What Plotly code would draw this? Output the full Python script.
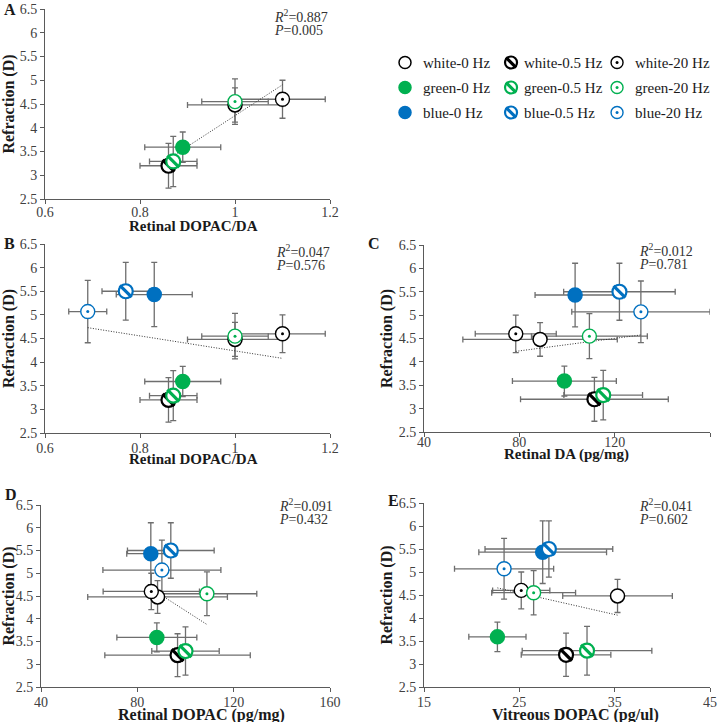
import numpy as np
import plotly.graph_objects as go

# ---------------- data ----------------
groups = ["white-0 Hz", "white-0.5 Hz", "white-20 Hz",
          "green-0 Hz", "green-0.5 Hz", "green-20 Hz",
          "blue-0 Hz", "blue-0.5 Hz", "blue-20 Hz"]
light = ["white", "white", "white", "green", "green", "green", "blue", "blue", "blue"]
flicker = ["0", "0.5", "20", "0", "0.5", "20", "0", "0.5", "20"]

refraction    = [4.48, 3.20, 4.60, 3.59, 3.29, 4.55, 5.43, 5.50, 5.07]
refraction_sd = [0.36, 0.47, 0.40, 0.32, 0.53, 0.48, 0.68, 0.61, 0.66]

dopac_da      = [1.00, 0.86, 1.10, 0.89, 0.87, 1.00, 0.83, 0.77, 0.69]
dopac_da_sd   = [0.10, 0.06, 0.09, 0.08, 0.05, 0.07, 0.08, 0.05, 0.04]

retinal_da    = [88.7, 111.5, 78.5, 98.9, 115.2, 109.4, 103.4, 122.0, 131.0]
retinal_da_sd = [32.4, 31.0, 17.0, 21.8, 16.5, 24.3, 16.8, 23.4, 29.0]

retinal_dopac    = [88.4, 96.7, 85.8, 88.1, 100.0, 108.9, 85.6, 93.9, 90.2]
retinal_dopac_sd = [29.0, 30.2, 20.0, 16.6, 14.0, 20.7, 10.0, 18.0, 24.5]

vitreous_dopac    = [35.3, 29.9, 25.2, 22.7, 32.1, 26.5, 27.45, 28.1, 23.4]
vitreous_dopac_sd = [5.75, 4.7, 3.0, 3.0, 6.8, 4.4, 6.7, 6.7, 5.2]

r2_values = ["0.887", "0.047", "0.012", "0.091", "0.041"]
p_values  = ["0.005", "0.576", "0.781", "0.432", "0.602"]
panel_letters = ["A", "B", "C", "D", "E"]
x_titles = ["Retinal DOPAC/DA", "Retinal DOPAC/DA", "Retinal DA (pg/mg)",
            "Retinal DOPAC (pg/mg)", "Vitreous DOPAC (pg/ul)"]

y_ticks = [2.5, 3, 3.5, 4, 4.5, 5, 5.5, 6, 6.5]
y_tick_labels = ["2.5", "3", "3.5", "4", "4.5", "5", "5.5", "6", "6.5"]
x_ticks_ratio = [0.6, 0.8, 1.0, 1.2]
x_tick_labels_ratio = ["0.6", "0.8", "1", "1.2"]
x_ticks_pg = [40, 80, 120, 160]
x_tick_labels_pg = ["40", "80", "120", "160"]
x_ticks_vit = [15, 25, 35, 45]
x_tick_labels_vit = ["15", "25", "35", "45"]

# ---------------- style ----------------
FONT = "Liberation Serif"
COLORS = {"white": "#000000", "green": "#00b050", "blue": "#0070c0"}
ERR_COLOR = "#6e6e6e"
AX_COLOR = "#5a5a5a"
W, H = 720, 722
MS = 14

def px_x(p):
    return p / W

def px_y(p):
    return 1 - p / H

# panel rects in pixels: left, right, top, bottom
panels = [
    (45, 330, 9, 199),
    (45, 330, 244, 433),
    (424, 710, 245, 432),
    (41, 330, 505, 687),
    (424, 710, 503, 687),
]
panel_x = [dopac_da, dopac_da, retinal_da, retinal_dopac, vitreous_dopac]
panel_xsd = [dopac_da_sd, dopac_da_sd, retinal_da_sd, retinal_dopac_sd, vitreous_dopac_sd]
panel_groups = [list(range(6)), list(range(9)), list(range(9)), list(range(9)), list(range(9))]
panel_xticks = [(x_ticks_ratio, x_tick_labels_ratio), (x_ticks_ratio, x_tick_labels_ratio),
                (x_ticks_pg, x_tick_labels_pg), (x_ticks_pg, x_tick_labels_pg),
                (x_ticks_vit, x_tick_labels_vit)]
xtick_standoff = [-4, -2, -7, -2, -2]
letter_pos = [(2, -1), (2, 233), (366, 233), (3, 484), (386, 490)]
stat_pos = [(272, 5), (274, 240), (637, 239), (277, 494), (637, 494)]
xtitle_pos = [(193, 226), (193, 459), (566, 454), (201, 715), (575, 715)]
xtitle_size = [15, 15, 15, 16, 16]

fig = go.Figure()

def marker_traces(xs, ys, idxs, xref, yref, size=MS):
    for i in idxs:
        col = COLORS[light[i]]
        f = flicker[i]
        if f == "0":
            fill = "#ffffff" if light[i] == "white" else col
            fig.add_trace(go.Scatter(x=[xs[i]], y=[ys[i]], mode="markers", xaxis=xref, yaxis=yref,
                                     marker=dict(symbol="circle", size=size, color=fill,
                                                 line=dict(color=col, width=1.5)),
                                     showlegend=False, hoverinfo="skip"))
        elif f == "0.5":
            fig.add_trace(go.Scatter(x=[xs[i]], y=[ys[i]], mode="markers", xaxis=xref, yaxis=yref,
                                     marker=dict(symbol="circle", size=size, color="#ffffff",
                                                 line=dict(color=col, width=2.2)),
                                     showlegend=False, hoverinfo="skip"))
            fig.add_trace(go.Scatter(x=[xs[i]], y=[ys[i]], mode="markers", xaxis=xref, yaxis=yref,
                                     marker=dict(symbol="line-nw", size=size * 0.85, color=col,
                                                 line=dict(color=col, width=3.2)),
                                     showlegend=False, hoverinfo="skip"))
        else:
            fig.add_trace(go.Scatter(x=[xs[i]], y=[ys[i]], mode="markers", xaxis=xref, yaxis=yref,
                                     marker=dict(symbol="circle", size=size, color="#ffffff",
                                                 line=dict(color=col, width=1.4)),
                                     showlegend=False, hoverinfo="skip"))
            fig.add_trace(go.Scatter(x=[xs[i]], y=[ys[i]], mode="markers", xaxis=xref, yaxis=yref,
                                     marker=dict(symbol="circle", size=3, color=col,
                                                 line=dict(width=0)),
                                     showlegend=False, hoverinfo="skip"))

layout_axes = {}
annotations = []
for k in range(5):
    n = k + 1
    xref = "x" if n == 1 else f"x{n}"
    yref = "y" if n == 1 else f"y{n}"
    xs = panel_x[k]
    xsd = panel_xsd[k]
    idxs = panel_groups[k]
    sel_x = [xs[i] for i in idxs]
    sel_y = [refraction[i] for i in idxs]
    # error bars
    fig.add_trace(go.Scatter(
        x=sel_x, y=sel_y, mode="markers", xaxis=xref, yaxis=yref,
        marker=dict(size=MS, opacity=0),
        error_x=dict(type="data", array=[xsd[i] for i in idxs], color=ERR_COLOR, thickness=1.3, width=3),
        error_y=dict(type="data", array=[refraction_sd[i] for i in idxs], color=ERR_COLOR, thickness=1.3, width=3),
        showlegend=False, hoverinfo="skip"))
    # linear trendline
    slope, icpt = np.polyfit(sel_x, sel_y, 1)
    tx = np.array([min(sel_x), max(sel_x)])
    fig.add_trace(go.Scatter(x=tx, y=slope * tx + icpt, mode="lines", xaxis=xref, yaxis=yref,
                             line=dict(color="#333333", width=1, dash="1px,1.6px"),
                             showlegend=False, hoverinfo="skip"))
    marker_traces(xs, refraction, idxs, xref, yref)

    l, r, t, b = panels[k]
    tv, tt = panel_xticks[k]
    xa = dict(domain=[px_x(l), px_x(r)], range=[tv[0], tv[-1]], tickvals=tv, ticktext=tt,
              showline=True, linecolor=AX_COLOR, linewidth=1, ticks="outside", ticklen=4,
              tickcolor=AX_COLOR, showgrid=False, zeroline=False, anchor=yref,
              tickfont=dict(family=FONT, size=14, color="#404040"),
              ticklabelstandoff=xtick_standoff[k],
              automargin=False)
    ya = dict(domain=[px_y(b), px_y(t)], range=[2.5, 6.5], tickvals=y_ticks, ticktext=y_tick_labels,
              showline=True, linecolor=AX_COLOR, linewidth=1, ticks="outside", ticklen=4,
              tickcolor=AX_COLOR, showgrid=False, zeroline=False, anchor=xref,
              tickfont=dict(family=FONT, size=14, color="#404040"),
              title=dict(text="<b>Refraction (D)</b>", font=dict(family=FONT, size=16, color="#1a1a1a"),
                         standoff=2),
              automargin=False)
    layout_axes["xaxis" if n == 1 else f"xaxis{n}"] = xa
    layout_axes["yaxis" if n == 1 else f"yaxis{n}"] = ya

    tx_, ty_ = xtitle_pos[k]
    annotations.append(dict(text=f"<b>{x_titles[k]}</b>", x=px_x(tx_), y=px_y(ty_), xref="paper",
                            yref="paper", xanchor="center", yanchor="middle", showarrow=False,
                            font=dict(family=FONT, size=xtitle_size[k], color="#1a1a1a")))
    lx, ly = letter_pos[k]
    annotations.append(dict(text=f"<b>{panel_letters[k]}</b>", x=px_x(lx), y=px_y(ly), xref="paper",
                            yref="paper", xanchor="left", yanchor="top", showarrow=False,
                            font=dict(family=FONT, size=16, color="#1a1a1a")))
    sx, sy = stat_pos[k]
    annotations.append(dict(text=f"<i>R</i><sup>2</sup>={r2_values[k]}", x=px_x(sx), y=px_y(sy),
                            xref="paper", yref="paper", xanchor="left", yanchor="top", showarrow=False,
                            font=dict(family=FONT, size=14, color="#333333")))
    annotations.append(dict(text=f"<i>P</i>={p_values[k]}", x=px_x(sx), y=px_y(sy + 16),
                            xref="paper", yref="paper", xanchor="left", yanchor="top", showarrow=False,
                            font=dict(family=FONT, size=14, color="#333333")))

# ---------------- custom legend ----------------
freq_index = {"0": 0, "0.5": 1, "20": 2}
color_index = {"white": 0, "green": 1, "blue": 2}
leg_x = [freq_index[f] for f in flicker]
leg_y = [color_index[c] for c in light]
marker_traces(leg_x, leg_y, list(range(9)), "x6", "y6", size=12)
for i in range(9):
    gap = 0.10 if flicker[i] == "0.5" else 0.15
    annotations.append(dict(text=groups[i], x=leg_x[i] + gap, y=leg_y[i], xref="x6", yref="y6",
                            xanchor="left", yanchor="middle", showarrow=False,
                            font=dict(family=FONT, size=15, color="#1a1a1a")))
layout_axes["xaxis6"] = dict(domain=[px_x(396), px_x(713)], range=[-0.085, 2.905], visible=False,
                             anchor="y6", fixedrange=True)
layout_axes["yaxis6"] = dict(domain=[px_y(125), px_y(50)], range=[2.5, -0.5], visible=False,
                             anchor="x6", fixedrange=True)

fig.update_layout(width=W, height=H, margin=dict(l=0, r=0, t=0, b=0),
                  paper_bgcolor="white", plot_bgcolor="white",
                  font=dict(family=FONT), annotations=annotations, **layout_axes)

fig.write_html("out.html", config={"displayModeBar": False},
               post_script="document.body.style.margin='0';document.body.style.overflow='hidden';")
